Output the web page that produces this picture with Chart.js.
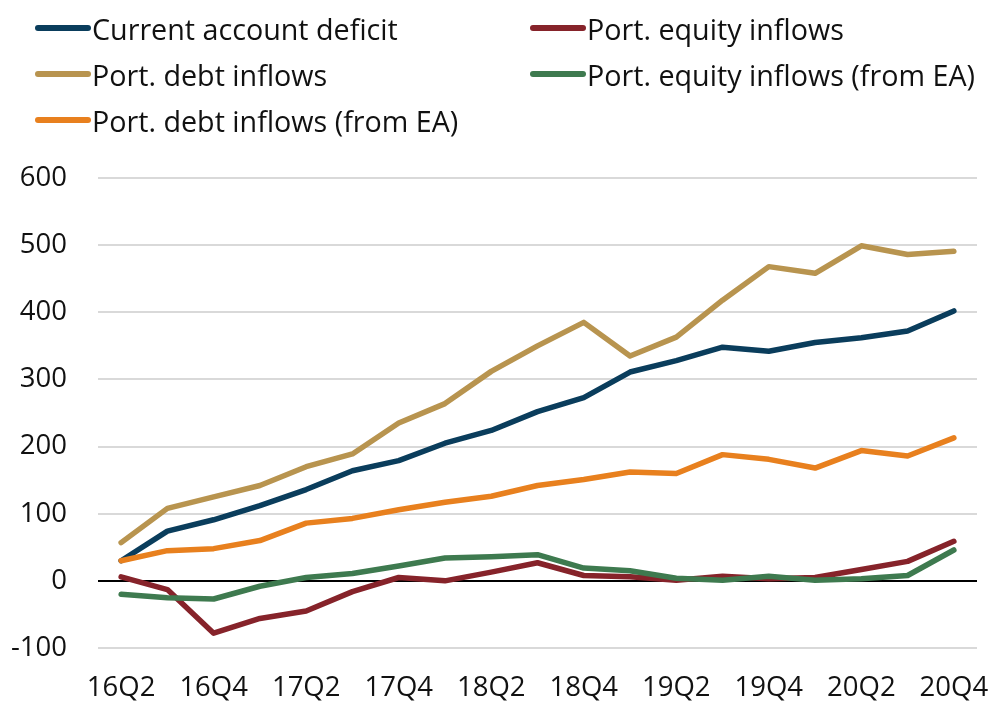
<!DOCTYPE html>
<html>
<head>
<meta charset="utf-8">
<script src="https://cdn.jsdelivr.net/npm/chart.js@4/dist/chart.umd.min.js"></script>
<style>
  html, body { margin: 0; padding: 0; background: #fff; }
  #wrap { position: relative; width: 995px; height: 706px; }
  #legend { position: absolute; left: 0; top: 0; width: 995px; height: 150px; font-family: "Open Sans", sans-serif; font-size: 28.7px; color: #111; }
  .item { position: absolute; display: flex; align-items: center; white-space: nowrap; }
  .swatch { width: 56px; height: 6px; border-radius: 3px; margin-right: 1px; }
  canvas { position: absolute; left: 0; top: 0; }
</style>
</head>
<body>
<div id="wrap">
  <canvas id="c" width="995" height="706"></canvas>
  <div id="legend"></div>
</div>
<script>
const categories = ["16Q2","16Q3","16Q4","17Q1","17Q2","17Q3","17Q4","18Q1","18Q2","18Q3","18Q4","19Q1","19Q2","19Q3","19Q4","20Q1","20Q2","20Q3","20Q4"];
const currentAccountDeficit = [30, 74, 91, 112, 136, 164, 179, 205, 224, 252, 273, 311, 328, 348, 342, 355, 362, 372, 402];
const portEquityInflows = [6, -13, -78, -56, -45, -16, 5, 0, 13, 27, 8, 6, 1, 7, 3, 5, 17, 29, 59];
const portDebtInflows = [57, 108, 125, 142, 170, 189, 235, 264, 312, 350, 385, 335, 363, 418, 468, 458, 499, 486, 491];
const portEquityInflowsEA = [-20, -25, -27, -8, 5, 11, 22, 34, 36, 39, 19, 15, 4, 1, 7, 1, 3, 8, 46];
const portDebtInflowsEA = [30, 45, 48, 60, 86, 93, 106, 117, 126, 142, 151, 162, 160, 188, 181, 168, 194, 186, 213];
const yTicks = [-100, 0, 100, 200, 300, 400, 500, 600];

const series = [
  { label: "Current account deficit", data: currentAccountDeficit, color: "#0a3d5c" },
  { label: "Port. equity inflows", data: portEquityInflows, color: "#86232a" },
  { label: "Port. debt inflows", data: portDebtInflows, color: "#b8944f" },
  { label: "Port. equity inflows (from EA)", data: portEquityInflowsEA, color: "#3e7a4f" },
  { label: "Port. debt inflows (from EA)", data: portDebtInflowsEA, color: "#e8801e" }
];

// HTML legend (two columns)
const legendPos = [[35, 28], [530, 28], [35, 74], [530, 74], [35, 120]];
const legend = document.getElementById('legend');
series.forEach((s, i) => {
  const d = document.createElement('div');
  d.className = 'item';
  d.style.left = legendPos[i][0] + 'px';
  d.style.top = (legendPos[i][1] - 20) + 'px';
  d.style.height = '40px';
  const sw = document.createElement('span');
  sw.className = 'swatch';
  sw.style.background = s.color;
  const t = document.createElement('span');
  t.textContent = s.label;
  d.appendChild(sw); d.appendChild(t);
  legend.appendChild(d);
});

new Chart(document.getElementById('c'), {
  type: 'line',
  data: {
    labels: categories,
    datasets: series.map((s, i) => ({
      label: s.label,
      data: s.data,
      borderColor: s.color,
      backgroundColor: s.color,
      borderWidth: 5.5,
      pointRadius: 0,
      tension: 0,
      borderCapStyle: 'round',
      borderJoinStyle: 'round',
      order: series.length - i
    }))
  },
  options: {
    responsive: false,
    animation: false,
    layout: { padding: { left: 10, right: 18, top: 178, bottom: 0 } },
    plugins: { legend: { display: false }, tooltip: { enabled: false } },
    scales: {
      x: {
        offset: true,
        grid: { display: false, drawTicks: false },
        border: { display: false },
        afterFit: (axis) => { axis.paddingLeft = 0; axis.paddingRight = 0; axis.height = 58; },
        ticks: {
          autoSkip: false,
          maxRotation: 0,
          padding: 24,
          color: '#111',
          font: { family: 'Open Sans', size: 27.5 },
          callback: function(v, i) { return i % 2 === 0 ? categories[i] : ''; }
        }
      },
      y: {
        min: -100,
        max: 600,
        afterBuildTicks: (axis) => { axis.ticks = yTicks.map(v => ({ value: v })); },
        afterFit: (axis) => { axis.width = 88; axis.paddingTop = 0; axis.paddingBottom = 0; },
        grid: {
          drawTicks: false,
          color: (ctx) => ctx.tick && ctx.tick.value === 0 ? '#000' : '#d9d9d9',
          lineWidth: 2
        },
        border: { display: false },
        ticks: {
          padding: 31,
          color: '#111',
          font: { family: 'Open Sans', size: 27.5 }
        }
      }
    }
  }
});
</script>
</body>
</html>
